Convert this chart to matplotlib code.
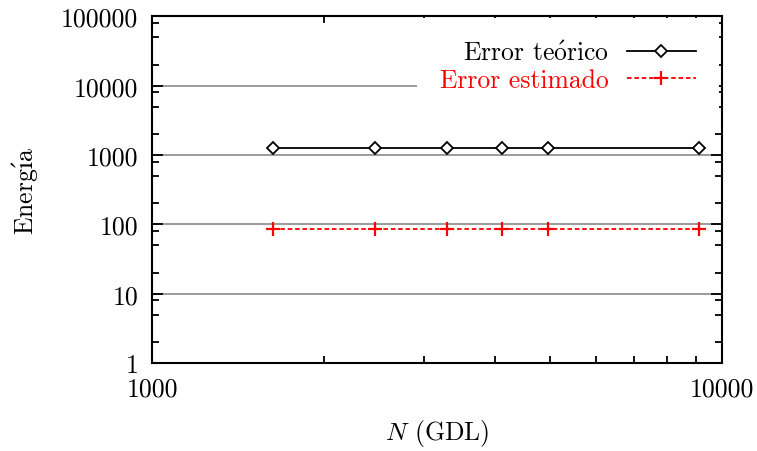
import matplotlib
matplotlib.use('Agg')
import matplotlib.pyplot as plt
from matplotlib.ticker import LogLocator, FixedLocator, NullFormatter

plt.rcParams['font.family'] = 'serif'
plt.rcParams['font.serif'] = ['cmr10']
plt.rcParams['mathtext.fontset'] = 'cm'
plt.rcParams['axes.formatter.use_mathtext'] = True
plt.rcParams['lines.scale_dashes'] = False

# degrees of freedom and energy errors
gdl = [1630, 2460, 3290, 4120, 4950, 9120]
err_teorico = [1250, 1250, 1250, 1250, 1250, 1250]
err_estimado = [85.5, 85.5, 85.5, 85.5, 85.5, 85.5]

y_major = [1, 10, 100, 1000, 10000, 100000]
y_labels = ['1', '10', '100', '1000', '10000', '100000']
x_major = [1000, 10000]
x_labels = ['1000', '10000']

fs = 18.5
fig = plt.figure(figsize=(7.57, 4.52), dpi=100)
ax = fig.add_axes([152 / 757, 1 - 364 / 452, 570 / 757, (364 - 17.3) / 452])

ax.plot(gdl, err_teorico, '-', color='black', lw=1.3, marker='D', ms=6.5,
        mfc='white', mec='black', mew=1.3, label=r'Error te$\mathrm{\acute{o}}$rico')
ax.plot(gdl, err_estimado, color='red', lw=1.3, dashes=(3.3, 2.0), marker='+',
        ms=9.5, mew=1.6, label='Error estimado')

ax.set_xscale('log')
ax.set_yscale('log')
ax.set_xlim(1000, 10000)
ax.set_ylim(1, 100000)

ax.xaxis.set_major_locator(FixedLocator(x_major))
ax.set_xticklabels(x_labels)
ax.xaxis.set_minor_locator(LogLocator(base=10, subs=range(2, 10)))
ax.xaxis.set_minor_formatter(NullFormatter())
ax.yaxis.set_major_locator(FixedLocator(y_major))
ax.set_yticklabels(y_labels)
ax.yaxis.set_minor_locator(LogLocator(base=10, subs=[2, 5, 8]))
ax.yaxis.set_minor_formatter(NullFormatter())

ax.tick_params(which='both', direction='in', top=True, right=True,
               labelsize=fs, width=1.3)
ax.tick_params(which='major', length=8, pad=10)
ax.tick_params(which='minor', length=5)
for sp in ax.spines.values():
    sp.set_linewidth(1.5)

ax.yaxis.grid(True, which='major', color='#808080', lw=1.1)

ax.set_ylabel('Energ$\\mathrm{\\acute{\u0131}}$a', fontsize=fs, labelpad=14)
ax.set_xlabel(r'$N$ (GDL)', fontsize=fs, labelpad=12)

leg = ax.legend(loc='upper right', bbox_to_anchor=(0.995, 0.995), fontsize=fs,
                markerfirst=False, numpoints=1, handlelength=2.7,
                handletextpad=0.7, labelspacing=0.12, borderpad=0.9,
                borderaxespad=0.0, frameon=True, fancybox=False,
                framealpha=1, facecolor='white', edgecolor='none')
for txt, col in zip(leg.get_texts(), ['black', 'red']):
    txt.set_color(col)
    txt.set_ha('right')

fig.savefig('out.png', dpi=100)
